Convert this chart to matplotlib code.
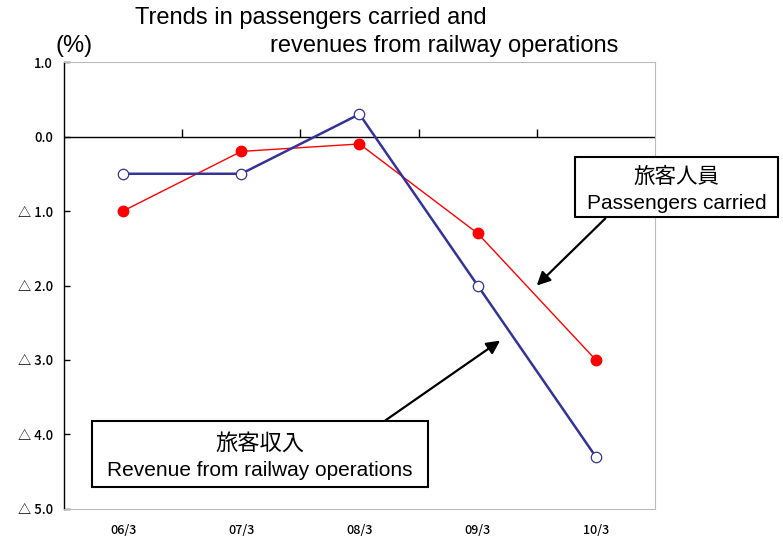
import numpy as np
import matplotlib
matplotlib.use("Agg")
import matplotlib.pyplot as plt
from matplotlib.patches import Rectangle

# data (% change year on year)
periods = ["06/3", "07/3", "08/3", "09/3", "10/3"]
passengers = [-1.0, -0.2, -0.1, -1.3, -3.0]
revenues = [-0.5, -0.5, 0.3, -2.0, -4.3]
y_ticks = [1.0, 0.0, -1.0, -2.0, -3.0, -4.0, -5.0]
y_labels = ["1.0", "0.0", "△ 1.0", "△ 2.0", "△ 3.0", "△ 4.0", "△ 5.0"]

plt.rcParams['font.family'] = ['Liberation Sans', 'Noto Sans CJK JP', 'DejaVu Sans']
cjk = ['Noto Sans CJK JP', 'DejaVu Sans']

fig = plt.figure(figsize=(7.83, 5.36), dpi=100)
ax = fig.add_axes([0.0817, 0.0504, 0.7548, 0.8339])

x = np.arange(len(periods))
ax.plot(x, passengers, color='#ff0000', lw=1.0, marker='o', ms=7.5,
        mfc='#ff0000', mec='#ff0000', zorder=3)
ax.plot(x, revenues, color='#333399', lw=1.8, marker='o', ms=7.5,
        mfc='white', mec='#333399', mew=0.9, zorder=4)

ax.set_xlim(-0.5, len(periods) - 0.5)
ax.set_ylim(-5.0, 1.0)

# zero line with category boundary ticks
ax.axhline(0, color='black', lw=1.0, zorder=2)
bounds = x[:-1] + 0.5
ax.vlines(bounds, 0, 0.1, color='black', lw=1.0, zorder=2)

ax.set_yticks(y_ticks)
ax.set_yticklabels(y_labels, family=cjk, fontsize=9.5, fontweight='medium')
ax.set_xticks(x)
ax.set_xticklabels(periods, family=cjk, fontsize=9, fontweight='medium')
ax.tick_params(axis='y', direction='in', length=4, width=1, pad=8)
ax.tick_params(axis='x', length=0, pad=11)

for side in ['top', 'right', 'bottom']:
    ax.spines[side].set_color('#bbbbbb')
ax.spines['left'].set_color('black')
ax.spines['left'].set_linewidth(1.0)

# arrows
ax.annotate('', xy=(3.50, -2.0), xytext=(4.08, -1.10),
            arrowprops=dict(arrowstyle='-|>', color='black', lw=1.6,
                            mutation_scale=20, shrinkA=0, shrinkB=0))
ax.annotate('', xy=(3.19, -2.74), xytext=(2.22, -3.81),
            arrowprops=dict(arrowstyle='-|>', color='black', lw=1.6,
                            mutation_scale=20, shrinkA=0, shrinkB=0))

# label boxes
fig.patches.append(Rectangle((0.734, 0.595), 0.259, 0.112, transform=fig.transFigure,
                             fill=True, facecolor='white', edgecolor='black', lw=1.5, zorder=5))
fig.text(0.864, 0.670, "旅客人員", family=cjk, fontsize=15.5, ha='center', va='center', zorder=6)
fig.text(0.864, 0.621, "Passengers carried", fontsize=15, ha='center', va='center', zorder=6)

fig.patches.append(Rectangle((0.1175, 0.0914), 0.429, 0.123, transform=fig.transFigure,
                             fill=True, facecolor='white', edgecolor='black', lw=1.5, zorder=5))
fig.text(0.332, 0.1735, "旅客収入", family=cjk, fontsize=16, ha='center', va='center', zorder=6)
fig.text(0.332, 0.123, "Revenue from railway operations", fontsize=15, ha='center', va='center', zorder=6)

# titles
fig.text(0.172, 0.966, "Trends in passengers carried and", fontsize=17, ha='left', va='center')
fig.text(0.345, 0.914, "revenues from railway operations", fontsize=17, ha='left', va='center')
fig.text(0.071, 0.914, "(%)", fontsize=17, ha='left', va='center')

fig.savefig("out.png", dpi=100)
